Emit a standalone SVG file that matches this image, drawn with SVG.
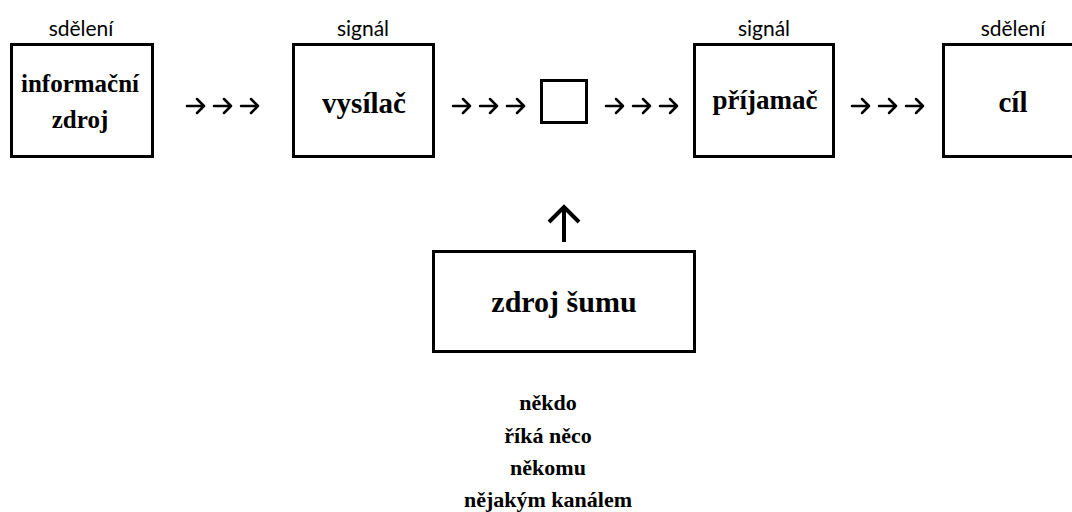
<svg xmlns="http://www.w3.org/2000/svg" width="1072" height="512" viewBox="0 0 1072 512">
<style>
.box{fill:#fff;stroke:#000;stroke-width:3}
.lbl{font-family:Lato,"Liberation Sans",sans-serif;font-size:21px;fill:#000;text-anchor:middle}
.t{font-family:"Liberation Serif","Times New Roman",serif;font-weight:bold;fill:#000;text-anchor:middle}
.arr{fill:none;stroke:#000;stroke-width:2.5;stroke-linecap:round;stroke-linejoin:round}
.up{fill:none;stroke:#000;stroke-width:4;stroke-linejoin:miter}
</style>
<rect width="1072" height="512" fill="#fff"/>
<g id="informacni-zdroj">
<text class="lbl" x="81" y="36">sdělení</text>
<rect class="box" x="11.5" y="44.5" width="141" height="112"/>
<text class="t" x="80" y="92" font-size="25">informační</text>
<text class="t" x="80" y="128" font-size="25">zdroj</text>
</g>
<g id="vysilac">
<text class="lbl" x="363" y="36">signál</text>
<rect class="box" x="293.5" y="44.5" width="140" height="112"/>
<text class="t" x="364" y="113" font-size="29">vysílač</text>
</g>
<g id="kanal">
<rect class="box" x="541.5" y="80.5" width="45" height="42"/>
</g>
<g id="prijamac">
<text class="lbl" x="764" y="36">signál</text>
<rect class="box" x="694.5" y="44.5" width="139" height="112"/>
<text class="t" x="765" y="109" font-size="27">příjamač</text>
</g>
<g id="cil">
<text class="lbl" x="1013" y="36">sdělení</text>
<rect class="box" x="943.5" y="44.5" width="150" height="112"/>
<text class="t" x="1013" y="112" font-size="29">cíl</text>
</g>
<g id="zdroj-sumu">
<rect class="box" x="433.5" y="251.5" width="261" height="100"/>
<text class="t" x="564" y="312" font-size="30">zdroj šumu</text>
</g>
<g id="poznamka">
<text class="t" x="548" y="410" font-size="22">někdo</text>
<text class="t" x="548" y="443" font-size="22">říká něco</text>
<text class="t" x="548" y="475" font-size="22">někomu</text>
<text class="t" x="548" y="507" font-size="22">nějakým kanálem</text>
</g>
<g id="connectors">
<path class="arr" d="M187 106h17M197 99l7 7-7 7M214 106h17M224 99l7 7-7 7M241 106h17M251 99l7 7-7 7"/>
<path class="arr" d="M453 106h17M463 99l7 7-7 7M480 106h17M490 99l7 7-7 7M507 106h17M517 99l7 7-7 7"/>
<path class="arr" d="M606 106h17M616 99l7 7-7 7M633 106h17M643 99l7 7-7 7M660 106h17M670 99l7 7-7 7"/>
<path class="arr" d="M852 106h17M862 99l7 7-7 7M879 106h17M889 99l7 7-7 7M906 106h17M916 99l7 7-7 7"/>
<path class="up" d="M564 242V208M549 222l15-15 15 15"/>
</g>
</svg>
